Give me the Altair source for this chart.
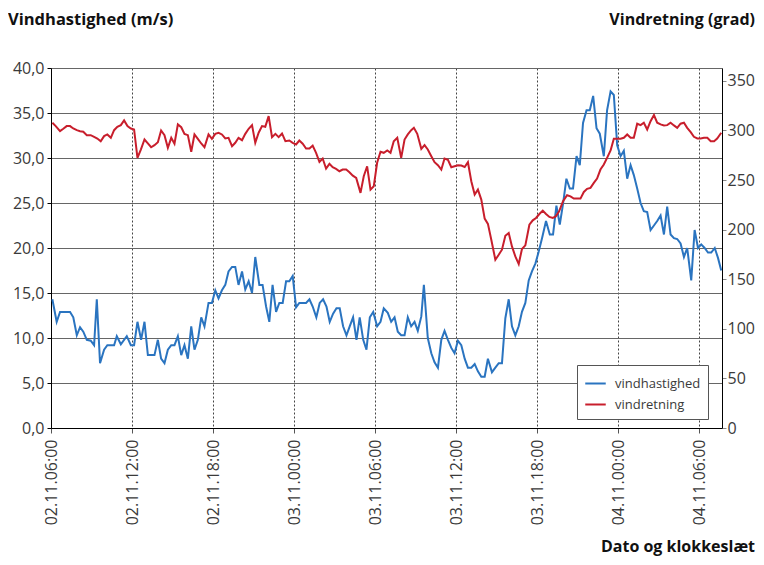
import altair as alt
import pandas as pd

# hours after 02.11 06:00 and wind speed (m/s)
speed_h = [0.10,0.42,0.67,1.41,1.65,1.91,2.15,2.39,2.65,2.94,3.19,3.39,3.63,3.93,4.17,4.67,4.87,5.17,5.61,5.91,
           6.15,6.40,6.67,6.92,7.17,7.66,7.91,8.15,8.40,8.65,8.90,9.14,9.39,9.64,9.88,10.13,10.38,10.62,10.87,11.12,
           11.36,11.66,11.91,12.16,12.40,12.65,12.90,13.14,13.40,13.64,13.88,14.14,14.38,14.63,14.88,15.12,15.42,15.66,15.92,16.16,
           16.40,16.66,16.90,17.15,17.40,17.64,17.89,18.14,18.38,18.88,19.13,19.37,19.64,19.89,20.14,20.39,20.63,20.88,21.13,21.37,
           21.62,21.87,22.11,22.36,22.61,22.85,23.11,23.35,23.60,23.85,24.14,24.39,24.63,24.93,25.18,25.43,25.67,25.92,26.17,26.41,
           26.66,26.91,27.15,27.41,27.60,27.89,28.15,28.39,28.64,28.89,29.13,29.38,29.63,29.87,30.12,30.37,30.62,30.86,31.11,31.36,
           31.60,31.85,32.10,32.34,32.64,32.89,33.14,33.38,33.63,33.88,34.12,34.37,34.62,34.86,35.11,35.36,35.60,35.86,36.10,36.35,
           36.64,36.92,37.16,37.41,37.66,37.90,38.15,38.40,38.64,38.90,39.14,39.38,39.64,39.88,40.13,40.38,40.62,40.92,41.16,41.42,
           41.66,41.91,42.16,42.40,42.65,42.90,43.14,43.39,43.64,43.88,44.13,44.38,44.63,44.87,45.12,45.37,45.61,45.86,46.11,46.35,
           46.60,46.85,47.09,47.39,47.64,47.89,48.13,48.38,48.63,48.87,49.13,49.37,49.61]
speed_v = [14.3,11.8,12.9,12.9,12.3,10.3,11.2,10.7,9.8,9.7,9.2,14.3,7.2,8.7,9.2,9.2,10.2,9.3,10.2,9.2,
           9.2,11.8,9.8,11.8,8.1,8.1,9.8,7.7,7.2,8.7,9.2,9.2,10.2,8.1,9.2,7.7,11.3,8.7,9.8,12.3,
           11.3,13.9,13.9,15.3,14.4,15.3,15.9,17.4,17.9,17.9,15.9,17.4,15.4,16.3,15.0,19.0,15.9,15.9,13.5,11.8,
           15.9,12.9,13.9,13.9,16.3,16.3,16.9,13.4,13.9,13.9,14.3,13.5,12.3,13.9,14.3,13.5,11.8,12.7,13.3,13.3,
           11.3,10.3,11.3,12.3,9.8,12.3,9.8,8.7,12.3,12.9,11.3,11.8,13.3,12.8,11.8,12.3,10.7,10.3,10.3,12.3,
           11.3,11.8,10.8,12.4,15.9,10.0,8.3,7.3,6.7,9.8,10.8,9.8,8.9,8.3,9.7,9.2,7.7,6.7,6.7,7.1,
           6.3,5.7,5.7,7.7,6.2,6.7,7.2,7.2,12.2,14.3,11.3,10.3,11.3,12.9,13.9,16.4,17.4,18.3,19.6,21.1,
           23.0,21.5,21.5,24.7,22.6,24.9,27.7,26.6,26.6,30.2,29.2,33.9,35.3,35.3,36.9,33.3,32.7,30.2,35.3,37.4,
           37.0,31.4,30.2,30.8,27.7,29.2,28.1,26.6,25.0,24.1,24.0,22.0,22.5,23.0,23.6,21.5,24.6,21.5,21.1,21.0,
           20.5,19.0,20.0,16.4,22.0,20.0,20.4,20.0,19.5,19.5,20.0,18.9,17.5]

# hours after 02.11 06:00 and wind direction (degrees)
dir_h = [0.10,0.35,0.67,0.91,1.16,1.41,1.65,1.91,2.15,2.39,2.65,2.94,3.19,3.43,3.68,3.93,4.17,4.43,4.67,4.91,
         5.17,5.41,5.66,5.91,6.15,6.40,6.65,6.92,7.17,7.41,7.66,7.91,8.15,8.40,8.65,8.90,9.14,9.39,9.64,9.88,
         10.13,10.38,10.62,10.87,11.12,11.36,11.66,11.91,12.16,12.40,12.65,12.90,13.14,13.40,13.64,13.88,14.14,14.38,14.63,14.88,
         15.12,15.37,15.62,15.86,16.11,16.36,16.61,16.85,17.10,17.35,17.64,17.89,18.14,18.38,18.63,18.88,19.13,19.37,19.62,19.87,
         20.11,20.36,20.61,20.85,21.10,21.35,21.59,21.85,22.09,22.34,22.59,22.91,23.15,23.40,23.65,23.89,24.14,24.39,24.63,24.89,
         25.13,25.37,25.63,25.92,26.17,26.41,26.66,26.86,27.11,27.41,27.65,27.89,28.15,28.39,28.64,28.89,29.13,29.38,29.63,29.87,
         30.12,30.37,30.62,30.86,31.11,31.36,31.60,31.85,32.10,32.34,32.59,32.89,33.14,33.38,33.63,33.88,34.12,34.37,34.62,34.86,
         35.11,35.41,35.66,35.90,36.15,36.40,36.64,36.89,37.14,37.36,37.61,37.90,38.20,38.45,38.70,38.94,39.19,39.44,39.68,39.93,
         40.18,40.42,40.67,40.92,41.16,41.42,41.66,41.91,42.16,42.40,42.65,42.90,43.14,43.39,43.64,43.88,44.13,44.38,44.63,44.87,
         45.12,45.37,45.61,45.86,46.11,46.35,46.60,46.85,47.09,47.35,47.59,47.84,48.09,48.33,48.58,48.83,49.08,49.31,49.61]
dir_v = [307.8,304.4,299.3,301.7,304.4,304.4,302.0,300.3,299.3,298.7,295.3,295.3,293.6,291.9,289.2,294.3,296.0,292.6,300.3,303.7,
         305.4,310.1,304.4,302.0,301.0,272.4,280.8,290.9,286.9,283.1,285.2,288.2,300.0,295.3,282.5,292.6,286.6,306.1,303.3,296.6,
         295.3,278.5,296.0,291.6,286.9,283.1,296.0,291.6,296.6,297.7,296.0,291.9,292.6,284.2,287.6,292.6,290.2,296.6,301.7,305.4,
         287.6,297.7,304.4,303.7,314.5,293.3,296.6,293.3,297.0,289.2,289.9,287.6,285.9,289.9,286.6,281.8,281.8,284.8,277.5,268.4,
         271.7,261.6,266.4,262.9,261.3,258.9,260.6,260.6,257.9,254.5,252.2,237.1,253.9,263.9,240.4,243.7,267.4,278.5,277.5,279.8,
         277.5,289.2,292.6,272.4,290.9,296.0,300.3,302.7,296.6,281.5,285.2,280.8,274.1,268.0,265.0,260.6,271.7,270.4,262.9,263.9,
         265.0,264.6,263.2,268.0,248.8,235.4,240.4,230.3,211.1,205.8,189.9,169.7,174.7,179.8,193.9,196.7,183.1,173.0,165.3,180.5,
         184.2,205.0,209.4,211.8,215.8,219.2,215.8,212.8,211.8,213.4,218.5,228.6,234.7,233.6,231.3,231.3,231.3,238.0,241.1,242.1,
         247.2,251.5,260.6,265.7,272.4,279.8,291.6,291.6,291.6,292.6,296.0,292.6,292.6,306.8,305.4,307.8,301.0,309.4,315.5,307.8,
         306.1,305.1,305.4,307.8,305.1,302.7,306.8,307.8,302.7,298.3,293.6,291.9,291.9,292.6,292.6,289.2,289.2,291.9,297.7]

series_names = ["vindhastighed", "vindretning"]
series_colors = ["#2a74c0", "#c81e2c"]

start = pd.Timestamp("2000-11-02 06:00")


def to_iso(hours):
    return [(start + pd.Timedelta(hours=h)).strftime("%Y-%m-%dT%H:%M:%SZ") for h in hours]


df_speed = pd.DataFrame({"t": to_iso(speed_h), "v": speed_v, "s": series_names[0]})
df_dir = pd.DataFrame({"t": to_iso(dir_h), "v": dir_v, "s": series_names[1]})

tick_vals = [alt.DateTime(year=2000, month=11, date=2 + (6 + 6 * i) // 24, hours=(6 + 6 * i) % 24, utc=True)
             for i in range(9)]
x_dom = [alt.DateTime(year=2000, month=11, date=2, hours=6, utc=True),
         alt.DateTime(year=2000, month=11, date=4, hours=7, minutes=40, utc=True)]

FONT = "Open Sans"
LBL = "#3a3a3a"

x_enc = alt.X("t:T", scale=alt.Scale(type="utc", domain=x_dom),
              axis=alt.Axis(values=tick_vals, labelExpr="utcFormat(datum.value, '%d.%m.%H:%M')",
                            labelAngle=270, labelAlign="right", labelBaseline="middle",
                            labelFontSize=16, labelColor=LBL, labelFont=FONT, labelPadding=6,
                            grid=True, gridDash=[2, 2], gridColor="#444", gridWidth=1,
                            domainColor="#000", tickColor="#555", tickSize=5, title=None))

color_enc = alt.Color("s:N", scale=alt.Scale(domain=series_names, range=series_colors),
                      legend=alt.Legend(title=None, orient="none", legendX=526, legendY=297,
                                        strokeColor="#555", fillColor="white", padding=7,
                                        symbolType="stroke", symbolStrokeWidth=2, symbolSize=420,
                                        labelFontSize=13, labelFont=FONT, labelColor=LBL,
                                        rowPadding=2, labelOffset=8))

speed_line = alt.Chart(df_speed).mark_line(strokeWidth=2).encode(
    x=x_enc,
    y=alt.Y("v:Q", scale=alt.Scale(domain=[0, 40], nice=False),
            axis=alt.Axis(values=[0, 5, 10, 15, 20, 25, 30, 35, 40], orient="left",
                          labelExpr="replace(format(datum.value, '.1f'), '.', ',')",
                          labelFontSize=16, labelColor=LBL, labelFont=FONT, labelPadding=3,
                          grid=True, gridColor="#666", gridWidth=1,
                          domainColor="#000", tickColor="#000", tickSize=4, title=None)),
    color=color_enc,
)

dir_line = alt.Chart(df_dir).mark_line(strokeWidth=2).encode(
    x=x_enc,
    y=alt.Y("v:Q", scale=alt.Scale(domain=[0, 363], nice=False),
            axis=alt.Axis(values=[0, 50, 100, 150, 200, 250, 300, 350], orient="right",
                          labelFontSize=16, labelColor=LBL, labelFont=FONT, labelPadding=1,
                          grid=False, domainColor="#000", tickColor="#888", tickSize=4, title=None)),
    color=color_enc,
)

lines = alt.layer(speed_line, dir_line).resolve_scale(y="independent")

title_df = pd.DataFrame({"a": [0]})
t_left = alt.Chart(title_df).mark_text(text="Vindhastighed (m/s)", font=FONT, fontSize=16.5,
                                      fontWeight="bold", align="left", baseline="middle",
                                      color="#111").encode(x=alt.value(-43), y=alt.value(-48))
t_right = alt.Chart(title_df).mark_text(text="Vindretning (grad)", font=FONT, fontSize=16,
                                       fontWeight="bold", align="right", baseline="middle",
                                       color="#111").encode(x=alt.value(704), y=alt.value(-48))
t_bottom = alt.Chart(title_df).mark_text(text="Dato og klokkeslæt", font=FONT, fontSize=16,
                                        fontWeight="bold", align="right", baseline="alphabetic",
                                        color="#111").encode(x=alt.value(704), y=alt.value(484))

chart = alt.layer(lines, t_left, t_right, t_bottom).properties(
    width=671, height=360, autosize="none",
    padding={"left": 43, "top": 60, "right": 34, "bottom": 129},
).configure_view(stroke=None)

chart.save("out.html", embed_options={"renderer": "svg", "actions": False})
